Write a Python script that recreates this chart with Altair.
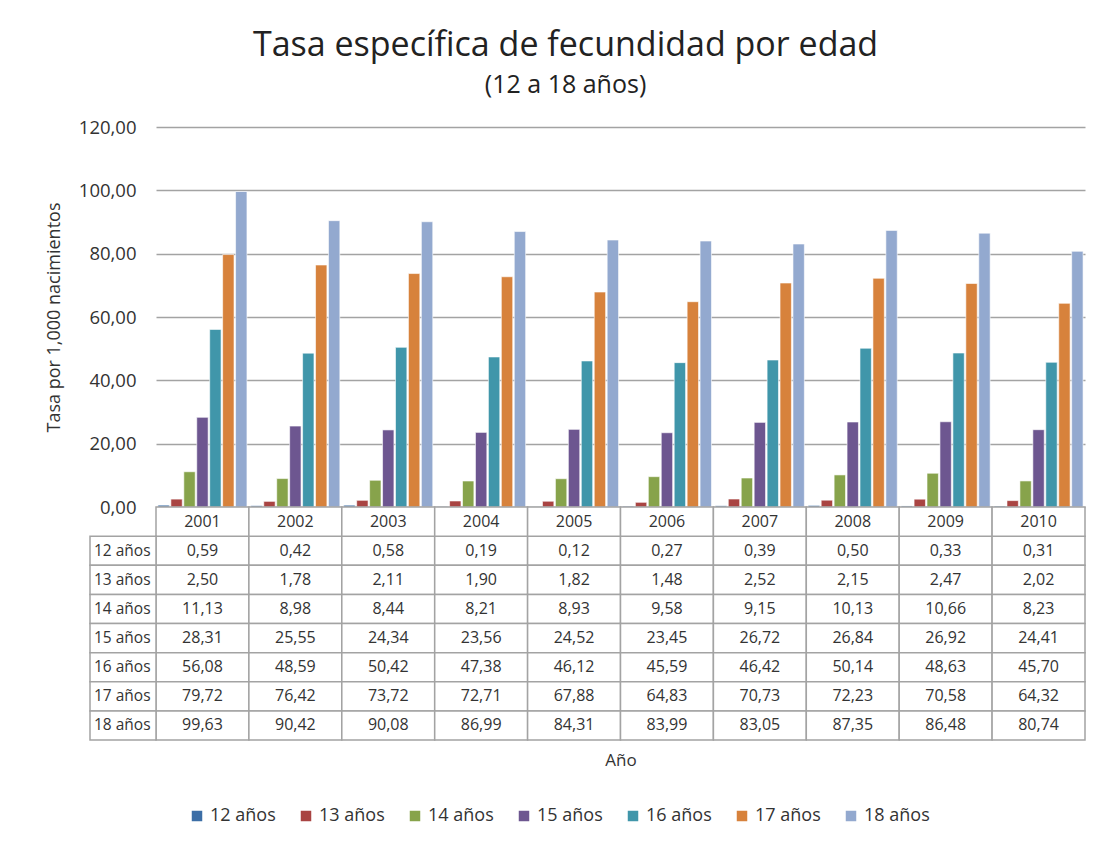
import altair as alt
import pandas as pd

years = ["2001", "2002", "2003", "2004", "2005", "2006", "2007", "2008", "2009", "2010"]
series = ["12 años", "13 años", "14 años", "15 años", "16 años", "17 años", "18 años"]
colors = ["#3C6EA6", "#A94442", "#87A34B", "#6D5690", "#4096AA", "#D7823C", "#93A9CF"]

v12 = [0.59, 0.42, 0.58, 0.19, 0.12, 0.27, 0.39, 0.50, 0.33, 0.31]
v13 = [2.50, 1.78, 2.11, 1.90, 1.82, 1.48, 2.52, 2.15, 2.47, 2.02]
v14 = [11.13, 8.98, 8.44, 8.21, 8.93, 9.58, 9.15, 10.13, 10.66, 8.23]
v15 = [28.31, 25.55, 24.34, 23.56, 24.52, 23.45, 26.72, 26.84, 26.92, 24.41]
v16 = [56.08, 48.59, 50.42, 47.38, 46.12, 45.59, 46.42, 50.14, 48.63, 45.70]
v17 = [79.72, 76.42, 73.72, 72.71, 67.88, 64.83, 70.73, 72.23, 70.58, 64.32]
v18 = [99.63, 90.42, 90.08, 86.99, 84.31, 83.99, 83.05, 87.35, 86.48, 80.74]
values = [v12, v13, v14, v15, v16, v17, v18]

y_ticks = [0, 20, 40, 60, 80, 100, 120]

rows = []
for s, vals in zip(series, values):
    for yr, v in zip(years, vals):
        rows.append({"year": yr, "series": s, "value": v,
                     "row": s, "label": f"{v:.2f}".replace(".", ",")})
df = pd.DataFrame(rows)

hdr = pd.DataFrame({"year": years, "row": ["hdr"] * len(years), "label": years})
table_df = pd.concat([df[["year", "row", "label"]], hdr], ignore_index=True)
rowlab_df = pd.DataFrame({"row": series})

FONT = "Open Sans"
TXT = "#333333"
GRID = "#a3a3a3"
row_order = ["hdr"] + series

x_bar = alt.X("year:N", sort=years,
              scale=alt.Scale(paddingInner=0, paddingOuter=0), axis=None)

bars = alt.Chart(df).mark_bar(stroke="white", strokeWidth=0.6).encode(
    x=x_bar,
    xOffset=alt.XOffset("series:N", sort=series,
                        scale=alt.Scale(paddingInner=0.12, paddingOuter=0.15)),
    y=alt.Y("value:Q", scale=alt.Scale(domain=[0, 120], nice=False),
            axis=alt.Axis(values=y_ticks,
                          labelExpr="replace(format(datum.value, '.2f'), '.', ',')",
                          title="Tasa por 1,000 nacimientos", titleFontSize=18,
                          titleFontWeight="normal", titleColor=TXT, titlePadding=15,
                          labelFontSize=18.5, labelColor=TXT, labelPadding=20,
                          ticks=False, domain=False, grid=True, gridColor=GRID,
                          gridWidth=1.5)),
    color=alt.Color("series:N", sort=series,
                    scale=alt.Scale(domain=series, range=colors),
                    legend=alt.Legend(title=None, orient="none", direction="horizontal",
                                      legendX=32, legendY=680,
                                      symbolType="square", symbolSize=110,
                                      symbolStrokeWidth=0, labelFontSize=18,
                                      labelColor=TXT, columnPadding=21,
                                      labelFont=FONT)),
).properties(width=929, height=380)

x_tab = alt.X("year:N", sort=years,
              scale=alt.Scale(paddingInner=0, paddingOuter=0),
              axis=alt.Axis(labels=False, ticks=False, domain=False, title="Año",
                            titleFontSize=17, titleFontWeight="normal",
                            titleColor=TXT, titlePadding=12))
y_tab = alt.Y("row:N", sort=row_order,
              scale=alt.Scale(domain=row_order, paddingInner=0, paddingOuter=0),
              axis=None)

base = alt.Chart(table_df)
cells = base.mark_rect(fill="white", stroke=GRID, strokeWidth=1.5).encode(x=x_tab, y=y_tab)
cell_txt = base.mark_text(fontSize=16, color=TXT, font=FONT).encode(
    x=x_tab, y=y_tab, text="label:N")

rbase = alt.Chart(rowlab_df)
y_lab = alt.Y("row:N", sort=row_order,
              scale=alt.Scale(domain=row_order, paddingInner=0, paddingOuter=0),
              axis=None)
lab_cells = rbase.mark_rect(fill="white", stroke=GRID, strokeWidth=1.5).encode(
    x=alt.value(-66), x2=alt.value(0), y=y_lab)
lab_txt = rbase.mark_text(fontSize=15.5, color=TXT, align="left", font=FONT).encode(
    x=alt.value(-62), y=y_lab, text="row:N")

table = alt.layer(cells, cell_txt, lab_cells, lab_txt).properties(width=929, height=233)

chart = alt.vconcat(bars, table, spacing=0, bounds="flush").properties(
    title=alt.TitleParams(
        text="Tasa específica de fecundidad por edad",
        subtitle="(12 a 18 años)",
        fontSize=34, fontWeight="normal", color="#222222", font=FONT,
        subtitleFontSize=25, subtitleColor="#222222", subtitleFont=FONT,
        subtitlePadding=10, anchor="middle", offset=20),
    padding={"left": 37, "top": 21, "right": 5, "bottom": 5},
).configure(font=FONT).configure_view(stroke=None).configure_axis(
    labelFont=FONT, titleFont=FONT)

chart.save("out.html", embed_options={"renderer": "svg", "actions": False})
